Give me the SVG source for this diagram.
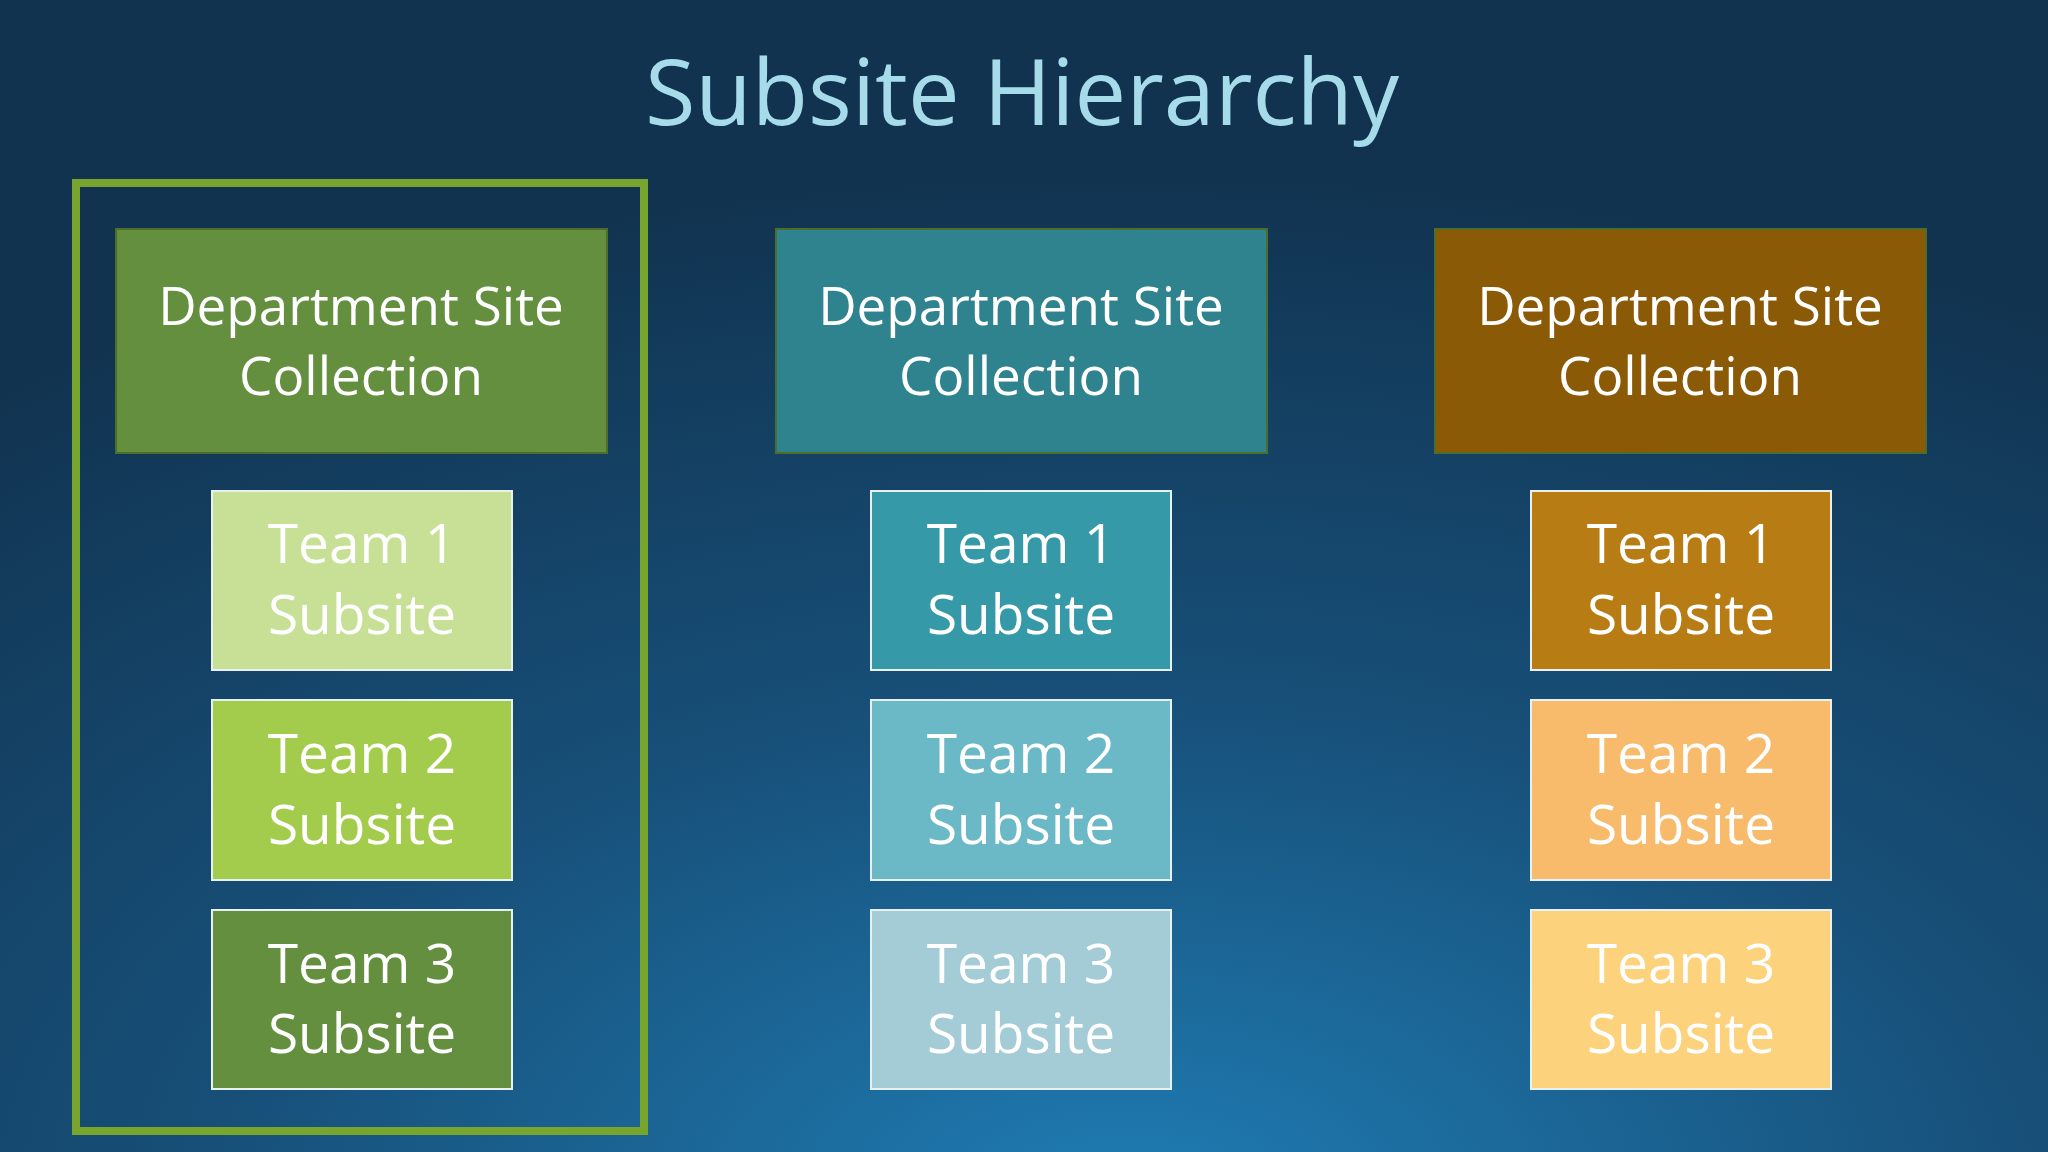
<svg xmlns="http://www.w3.org/2000/svg" width="2048" height="1152" viewBox="0 0 2048 1152">
<defs>
<radialGradient id="bg" cx="0.55" cy="1.05" r="0.9">
<stop offset="0" stop-color="#1f7db5"/>
<stop offset="0.5" stop-color="#174f78"/>
<stop offset="1" stop-color="#113350"/>
</radialGradient>
<style>
text{font-family:"Open Sans","Liberation Sans",sans-serif;fill:#fff;text-anchor:middle}
.d{font-size:53px}
.t{font-size:55px}
.db{stroke:#4d6e2a;stroke-width:2}
.tb{stroke:#e8f0f0;stroke-width:2}
</style>
</defs>
<rect width="2048" height="1152" fill="url(#bg)"/>
<text x="1022" y="125" style="font-size:92px;fill:#a6dcea">Subsite Hierarchy</text>
<rect x="76" y="183" width="568" height="948" fill="none" stroke="#78a52e" stroke-width="8"/>
<g id="dept1"><rect class="db" x="116" y="229" width="491" height="224" fill="#648f3f"/><text class="d" x="361" y="325">Department Site</text><text class="d" x="361" y="395">Collection</text></g>
<g id="dept2"><rect class="db" x="776" y="229" width="491" height="224" fill="#2f838e"/><text class="d" x="1021" y="325">Department Site</text><text class="d" x="1021" y="395">Collection</text></g>
<g id="dept3"><rect class="db" x="1435" y="229" width="491" height="224" fill="#8a5a06"/><text class="d" x="1680" y="325">Department Site</text><text class="d" x="1680" y="395">Collection</text></g>
<g id="g1t1"><rect class="tb" x="212" y="491" width="300" height="179" fill="#c8e096"/><text class="t" x="362" y="563">Team 1</text><text class="t" x="362" y="634">Subsite</text></g>
<g id="g1t2"><rect class="tb" x="212" y="700" width="300" height="180" fill="#a4cc4c"/><text class="t" x="362" y="773">Team 2</text><text class="t" x="362" y="844">Subsite</text></g>
<g id="g1t3"><rect class="tb" x="212" y="910" width="300" height="179" fill="#648f3f"/><text class="t" x="362" y="983">Team 3</text><text class="t" x="362" y="1053">Subsite</text></g>
<g id="g2t1"><rect class="tb" x="871" y="491" width="300" height="179" fill="#3699a8"/><text class="t" x="1021" y="563">Team 1</text><text class="t" x="1021" y="634">Subsite</text></g>
<g id="g2t2"><rect class="tb" x="871" y="700" width="300" height="180" fill="#6bb9c6"/><text class="t" x="1021" y="773">Team 2</text><text class="t" x="1021" y="844">Subsite</text></g>
<g id="g2t3"><rect class="tb" x="871" y="910" width="300" height="179" fill="#a3ccd6"/><text class="t" x="1021" y="983">Team 3</text><text class="t" x="1021" y="1053">Subsite</text></g>
<g id="g3t1"><rect class="tb" x="1531" y="491" width="300" height="179" fill="#b87c14"/><text class="t" x="1681" y="563">Team 1</text><text class="t" x="1681" y="634">Subsite</text></g>
<g id="g3t2"><rect class="tb" x="1531" y="700" width="300" height="180" fill="#f8bb6c"/><text class="t" x="1681" y="773">Team 2</text><text class="t" x="1681" y="844">Subsite</text></g>
<g id="g3t3"><rect class="tb" x="1531" y="910" width="300" height="179" fill="#fdd27c"/><text class="t" x="1681" y="983">Team 3</text><text class="t" x="1681" y="1053">Subsite</text></g>
<g id="connectors"/>
</svg>
